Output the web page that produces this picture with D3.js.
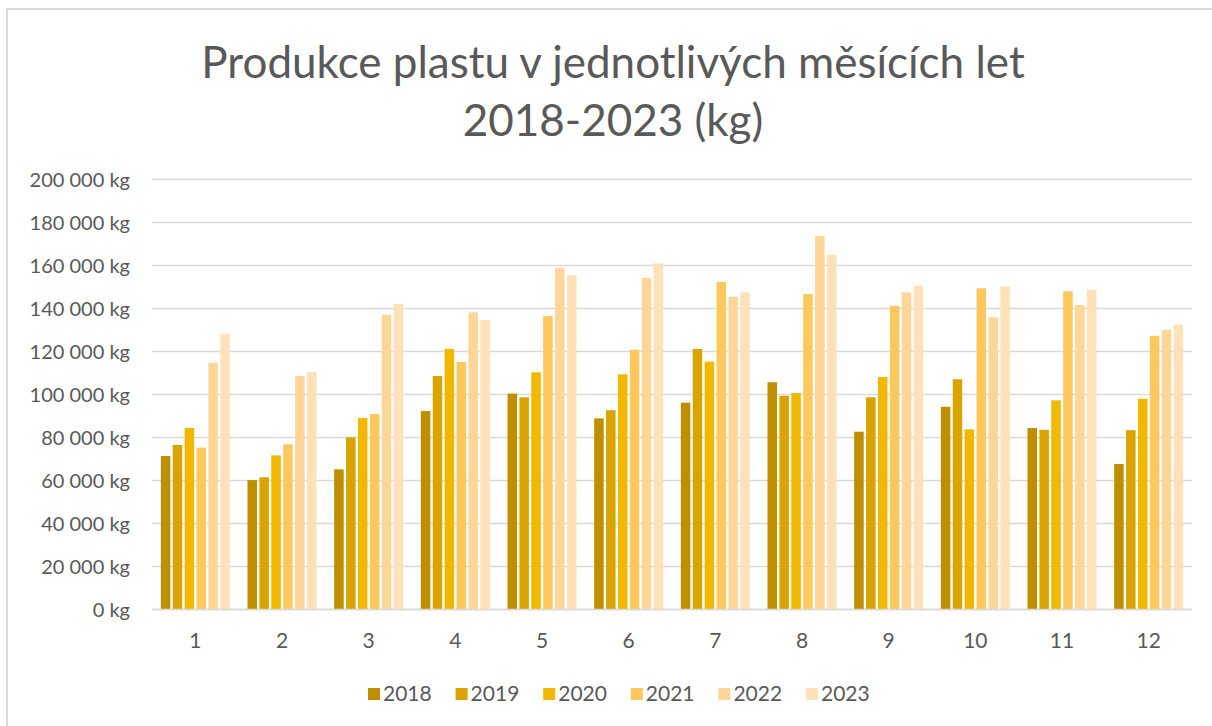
<!DOCTYPE html>
<html>
<head>
<meta charset="utf-8">
<script src="https://cdn.jsdelivr.net/npm/d3@7"></script>
<style>
  body { margin: 0; background: #fff; }
  svg { display: block; font-family: Lato, "Open Sans", sans-serif; }
</style>
</head>
<body>
<svg width="1212" height="726"></svg>
<script>
// months on x axis
var months = ['1', '2', '3', '4', '5', '6', '7', '8', '9', '10', '11', '12'];
var years = ['2018', '2019', '2020', '2021', '2022', '2023'];
var colors = ['#bf8f00', '#d9a300', '#f2b800', '#ffc85c', '#ffd697', '#ffe1b9'];

// values in kg
var y2018 = [71400, 60200, 65200, 92300, 100400, 88900, 96200, 105700, 82700, 94300, 84400, 67700];
var y2019 = [76500, 61500, 80100, 108600, 98700, 92700, 121200, 99400, 98700, 107100, 83600, 83400];
var y2020 = [84400, 71700, 89100, 121200, 110300, 109400, 115300, 100700, 108100, 83800, 97300, 98000];
var y2021 = [75300, 76800, 90900, 115100, 136500, 120800, 152300, 146700, 141200, 149400, 148000, 127300];
var y2022 = [114700, 108600, 137100, 138200, 158700, 154300, 145500, 173700, 147500, 135900, 141600, 130100];
var y2023 = [128100, 110500, 142100, 134700, 155600, 161000, 147500, 165000, 150500, 150200, 148700, 132500];
var series = [y2018, y2019, y2020, y2021, y2022, y2023];
var yTicks = [0, 20000, 40000, 60000, 80000, 100000, 120000, 140000, 160000, 180000, 200000];

var svg = d3.select('svg');
var textColor = '#595959';
var gridColor = '#d9d9d9';

// chart border (right and bottom run off the picture)
svg.append('rect')
  .attr('x', 7)
  .attr('y', 9)
  .attr('width', 1240)
  .attr('height', 760)
  .attr('fill', 'none')
  .attr('stroke', gridColor)
  .attr('stroke-width', 2);

// title
var title = svg.append('text')
  .attr('text-anchor', 'middle')
  .attr('fill', textColor)
  .style('font-size', '44px');
title.append('tspan').attr('x', 613).attr('y', 78).text('Produkce plastu v jednotlivých měsících let');
title.append('tspan').attr('x', 613).attr('y', 136).text('2018-2023 (kg)');

var plotLeft = 152, plotRight = 1192, plotTop = 179.5, plotBottom = 609.5;

var x0 = d3.scaleBand()
  .domain(months)
  .range([plotLeft, plotRight])
  .paddingInner(0.204)
  .paddingOuter(0.102);

var x1 = d3.scaleBand()
  .domain(years)
  .range([0, x0.bandwidth()])
  .paddingInner(0.2);

var y = d3.scaleLinear()
  .domain([0, 200000])
  .range([plotBottom, plotTop]);

var fmt = function (d) { return d3.format(',')(d).replace(/,/g, ' ') + ' kg'; };

// grid lines
svg.append('g')
  .selectAll('line')
  .data(yTicks)
  .join('line')
  .attr('x1', plotLeft)
  .attr('x2', plotRight)
  .attr('y1', function (d) { return y(d); })
  .attr('y2', function (d) { return y(d); })
  .attr('stroke', gridColor)
  .attr('stroke-width', 1.3);

// y labels
svg.append('g')
  .selectAll('text')
  .data(yTicks)
  .join('text')
  .attr('x', 130)
  .attr('y', function (d) { return y(d); })
  .attr('dy', '0.35em')
  .attr('text-anchor', 'end')
  .attr('fill', textColor)
  .style('font-size', '20px')
  .text(fmt);

// bars
var groups = svg.append('g')
  .selectAll('g')
  .data(months)
  .join('g')
  .attr('transform', function (m) { return 'translate(' + x0(m) + ',0)'; });

groups.selectAll('rect')
  .data(function (m, i) {
    return years.map(function (yr, j) { return { year: yr, value: series[j][i], color: colors[j] }; });
  })
  .join('rect')
  .attr('x', function (d) { return x1(d.year); })
  .attr('y', function (d) { return y(d.value); })
  .attr('width', x1.bandwidth())
  .attr('height', function (d) { return y(0) - y(d.value); })
  .attr('fill', function (d) { return d.color; });

// x axis line
svg.append('line')
  .attr('x1', plotLeft)
  .attr('x2', plotRight)
  .attr('y1', plotBottom)
  .attr('y2', plotBottom)
  .attr('stroke', gridColor)
  .attr('stroke-width', 1.5);

// x labels
svg.append('g')
  .selectAll('text')
  .data(months)
  .join('text')
  .attr('x', function (m) { return x0(m) + x0.bandwidth() / 2; })
  .attr('y', 648)
  .attr('text-anchor', 'middle')
  .attr('fill', textColor)
  .style('font-size', '21px')
  .text(function (m) { return m; });

// legend
var legend = svg.append('g')
  .selectAll('g')
  .data(years)
  .join('g')
  .attr('transform', function (d, i) { return 'translate(' + (368 + i * 87.6) + ',688)'; });

legend.append('rect')
  .attr('width', 12)
  .attr('height', 12)
  .attr('fill', function (d, i) { return colors[i]; });

legend.append('text')
  .attr('x', 15)
  .attr('y', 13)
  .attr('fill', textColor)
  .style('font-size', '21px')
  .text(function (d) { return d; });
</script>
</body>
</html>
